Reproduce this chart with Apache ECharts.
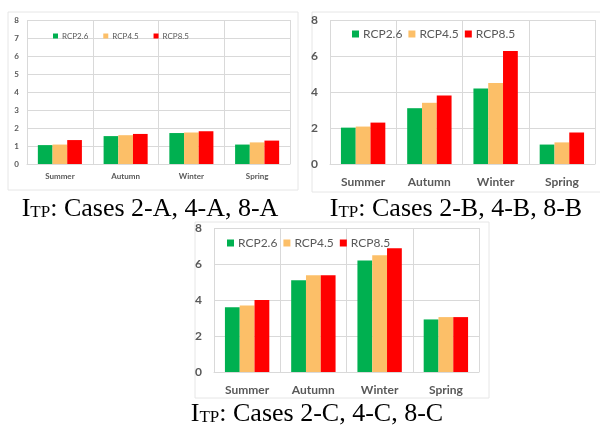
<!DOCTYPE html>
<html>
<head>
<meta charset="utf-8">
<script src="https://cdn.jsdelivr.net/npm/echarts@6/dist/echarts.min.js"></script>
<style>html,body{margin:0;padding:0;background:#fff}#c{width:600px;height:426px}</style>
</head>
<body>
<div id="c"></div>
<script>
const categories = ['Summer', 'Autumn', 'Winter', 'Spring'];
const seriesNames = ['RCP2.6', 'RCP4.5', 'RCP8.5'];
const colors = ['#00b050', '#fcbf68', '#ff0000'];

const caseA_rcp26 = [1.05, 1.55, 1.72, 1.08];
const caseA_rcp45 = [1.08, 1.60, 1.75, 1.20];
const caseA_rcp85 = [1.33, 1.67, 1.82, 1.30];

const caseB_rcp26 = [2.02, 3.10, 4.20, 1.08];
const caseB_rcp45 = [2.08, 3.40, 4.50, 1.20];
const caseB_rcp85 = [2.30, 3.80, 6.28, 1.75];

const caseC_rcp26 = [3.60, 5.10, 6.20, 2.92];
const caseC_rcp45 = [3.70, 5.38, 6.48, 3.05];
const caseC_rcp85 = [4.00, 5.38, 6.88, 3.05];

const captions = ['Cases 2-A, 4-A, 8-A', 'Cases 2-B, 4-B, 8-B', 'Cases 2-C, 4-C, 8-C'];

const panels = [
  {data: [caseA_rcp26, caseA_rcp45, caseA_rcp85], grid: {left: 27, top: 20, width: 263, height: 144}, interval: 1, fs: 8, lfs: 8, legend: {left: 48, top: 27, gap: 15, icon: 5}},
  {data: [caseB_rcp26, caseB_rcp45, caseB_rcp85], grid: {left: 330, top: 20, width: 265, height: 144}, interval: 2, fs: 12, lfs: 12, legend: {left: 347, top: 23, gap: 6, icon: 7}},
  {data: [caseC_rcp26, caseC_rcp45, caseC_rcp85], grid: {left: 214, top: 228, width: 265, height: 144}, interval: 2, fs: 12, lfs: 12, legend: {left: 222, top: 232, gap: 6, icon: 7}}
];

const grid = [], xAxis = [], yAxis = [], series = [], legend = [];
panels.forEach((p, i) => {
  grid.push(p.grid);
  xAxis.push({
    type: 'category', gridIndex: i, data: categories,
    axisLine: {lineStyle: {color: '#d9d9d9'}},
    axisTick: {show: false},
    splitLine: {show: true, lineStyle: {color: '#d9d9d9'}},
    axisLabel: {color: '#595959', fontFamily: 'Lato', fontWeight: 'bold', fontSize: p.fs, margin: p.fs}
  });
  yAxis.push({
    type: 'value', gridIndex: i, min: 0, max: 8, interval: p.interval,
    axisLine: {show: false}, axisTick: {show: false},
    splitLine: {lineStyle: {color: '#d9d9d9'}},
    axisLabel: {color: '#595959', fontFamily: 'Lato', fontWeight: 'bold', fontSize: p.fs, margin: p.fs}
  });
  seriesNames.forEach((n, k) => {
    series.push({
      type: 'bar', name: n, xAxisIndex: i, yAxisIndex: i, data: p.data[k],
      barGap: '0%', barCategoryGap: '33%', itemStyle: {color: colors[k]}
    });
  });
  legend.push({
    data: seriesNames, left: p.legend.left, top: p.legend.top, itemGap: p.legend.gap,
    itemWidth: p.legend.icon, itemHeight: p.legend.icon, icon: 'rect',
    textStyle: {color: '#595959', fontFamily: 'Lato', fontSize: p.lfs, padding: [0,0,0,-1]}
  });
});

const captionPos = [[150, 209], [456, 209], [317, 414]];
const borders = [[8, 12, 290, 178], [312, 12, 300, 180], [195, 222, 294, 176]];
const graphic = [];
borders.forEach(b => graphic.push({type: 'rect', shape: {x: b[0], y: b[1], width: b[2], height: b[3]}, style: {fill: 'none', stroke: '#e6e6e6', lineWidth: 1}, z: -1}));
captions.forEach((c, i) => graphic.push({
  type: 'text', x: captionPos[i][0], y: captionPos[i][1],
  style: {
    text: '{a|I}{b|TP}{a|: ' + c + '}', align: 'center', verticalAlign: 'middle',
    rich: {a: {fontFamily: 'Liberation Serif', fontSize: 26, fill: '#000'}, b: {fontFamily: 'Liberation Serif', fontSize: 17, fill: '#000', verticalAlign: 'bottom', padding: [0,0,1,0]}}
  }
}));

const chart = echarts.init(document.getElementById('c'));
chart.setOption({animation: false, grid, xAxis, yAxis, series, legend, graphic});
</script>
</body>
</html>
